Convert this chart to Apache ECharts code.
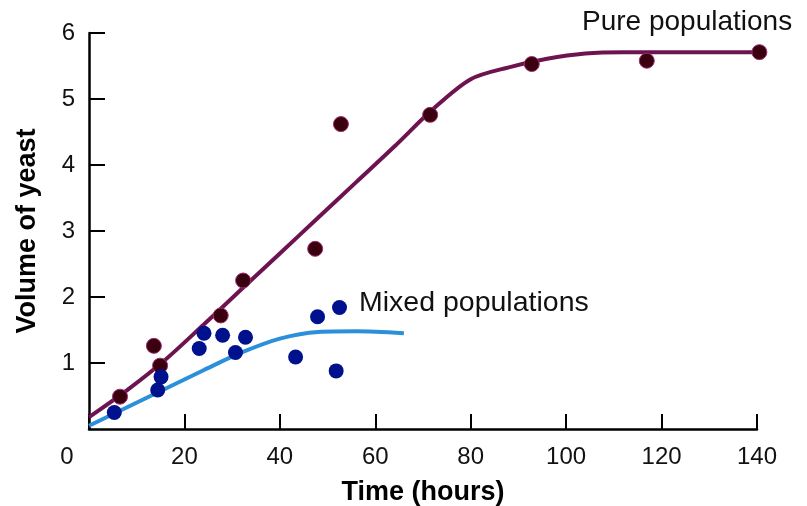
<!DOCTYPE html>
<html>
<head>
<meta charset="utf-8">
<script src="https://cdn.jsdelivr.net/npm/echarts@6/dist/echarts.min.js"></script>
<style>
  html, body { margin: 0; padding: 0; background: #fff; overflow: hidden; }
  #chart { width: 807px; height: 506px; }
</style>
</head>
<body>
<div id="chart"></div>
<script>
// fitted curves
var pureCurveX  = [0, 8, 16, 24, 32, 40, 48, 56, 64, 72, 80, 88, 96, 104, 112, 148];
var pureCurveY  = [0.18, 0.59, 1.05, 1.58, 2.12, 2.66, 3.20, 3.74, 4.28, 4.84, 5.30, 5.48, 5.61, 5.69, 5.71, 5.71];
var mixedCurveX = [0, 8, 16, 24, 32, 40, 48, 56, 66];
var mixedCurveY = [0.05, 0.33, 0.61, 0.89, 1.16, 1.37, 1.47, 1.48, 1.45];

// measured points
var pureX  = [6.5, 13.6, 14.9, 27.6, 32.3, 47.4, 52.8, 71.5, 92.8, 116.9, 140.5];
var pureY  = [0.49, 1.26, 0.96, 1.72, 2.25, 2.73, 4.62, 4.76, 5.53, 5.58, 5.71];
var mixedX = [5.3, 14.4, 15.1, 23.1, 24.1, 28.0, 30.7, 32.8, 43.3, 47.9, 51.8, 52.5];
var mixedY = [0.25, 0.59, 0.79, 1.22, 1.45, 1.42, 1.16, 1.39, 1.09, 1.70, 0.88, 1.84];

var xTicks = [0, 20, 40, 60, 80, 100, 120, 140];

function pairs(xs, ys) {
    var out = [];
    for (var i = 0; i < xs.length; i++) {
        out.push([xs[i], ys[i]]);
    }
    return out;
}

var FONT = "'Liberation Sans', Arial, sans-serif";
var chart = echarts.init(document.getElementById('chart'));

chart.setOption({
    animation: false,
    grid: { left: 89, right: 50, top: 33, bottom: 77, containLabel: false, outerBoundsMode: 'none' },
    xAxis: {
        type: 'value',
        min: 0,
        max: 140,
        interval: 20,
        name: 'Time (hours)',
        nameLocation: 'middle',
        nameGap: 50,
        nameTextStyle: { fontFamily: FONT, fontSize: 27, fontWeight: 'bold', color: '#000' },
        splitLine: { show: false },
        axisLine: { lineStyle: { color: '#000', width: 2.5 } },
        axisTick: { inside: true, length: 15, lineStyle: { color: '#000', width: 2 } },
        axisLabel: {
            margin: 16,
            fontFamily: FONT,
            fontSize: 24,
            color: '#111',
            formatter: function (v) {
                if (xTicks.indexOf(v) < 0) return '';
                return v === 0 ? '{z|0}' : String(v);
            },
            rich: { z: { fontFamily: FONT, fontSize: 24, color: '#111', padding: [0, 44, 0, 0] } }
        }
    },
    yAxis: {
        type: 'value',
        min: 0,
        max: 6,
        interval: 1,
        name: 'Volume of yeast',
        nameLocation: 'middle',
        nameGap: 48,
        nameTextStyle: { fontFamily: FONT, fontSize: 27, fontWeight: 'bold', color: '#000' },
        splitLine: { show: false },
        axisLine: { show: true, lineStyle: { color: '#000', width: 2.5 } },
        axisTick: { show: true, inside: true, length: 16, lineStyle: { color: '#000', width: 2 } },
        axisLabel: { showMinLabel: false, margin: 14, fontFamily: FONT, fontSize: 24, color: '#111' }
    },
    graphic: [
        {
            type: 'text', left: 582, top: 8,
            style: { text: 'Pure populations', fontFamily: FONT, fontSize: 28, fill: '#111' }
        },
        {
            type: 'text', left: 359, top: 289,
            style: { text: 'Mixed populations', fontFamily: FONT, fontSize: 28.5, fill: '#111' }
        }
    ],
    series: [
        {
            type: 'line',
            data: pairs(pureCurveX, pureCurveY),
            smooth: 0.3,
            showSymbol: false,
            clip: false,
            lineStyle: { color: '#6d1450', width: 4 },
            z: 1
        },
        {
            type: 'line',
            data: pairs(mixedCurveX, mixedCurveY),
            smooth: 0.3,
            showSymbol: false,
            lineStyle: { color: '#2b90d9', width: 4 },
            z: 2
        },
        {
            type: 'scatter',
            data: pairs(pureX, pureY),
            symbolSize: 15,
            clip: false,
            itemStyle: { color: '#3a0010', borderColor: '#9b2f6e', borderWidth: 1, opacity: 1 },
            z: 3
        },
        {
            type: 'scatter',
            data: pairs(mixedX, mixedY),
            symbolSize: 15,
            itemStyle: { color: '#00118e', opacity: 1 },
            z: 4
        }
    ]
});
</script>
</body>
</html>
